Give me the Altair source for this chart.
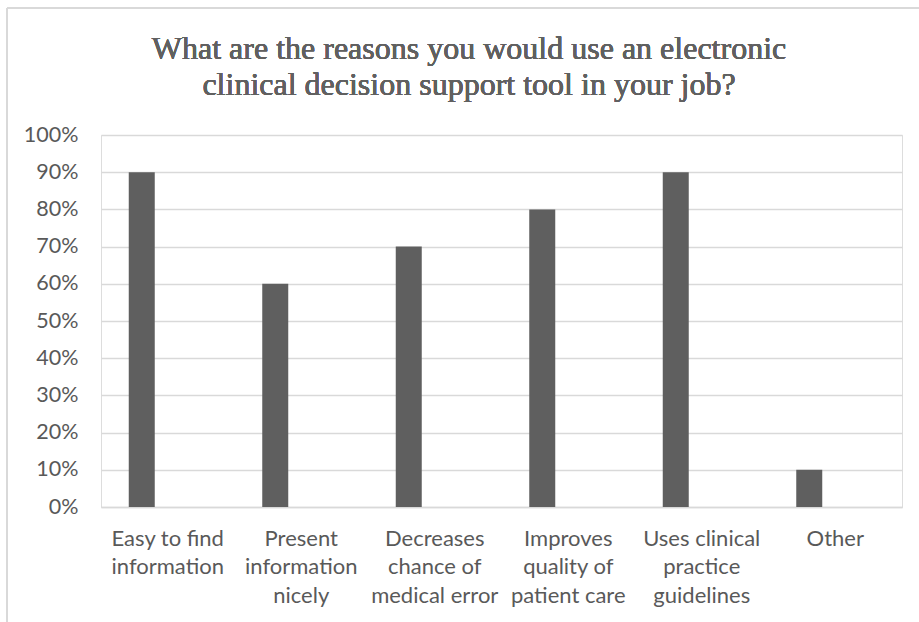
import altair as alt
import pandas as pd

# Survey responses: share of respondents citing each reason
reasons = [
    "Easy to find information",
    "Present information nicely",
    "Decreases chance of medical error",
    "Improves quality of patient care",
    "Uses clinical practice guidelines",
    "Other",
]
label_lines = [
    ["Easy to find", "information"],
    ["Present", "information", "nicely"],
    ["Decreases", "chance of", "medical error"],
    ["Improves", "quality of", "patient care"],
    ["Uses clinical", "practice", "guidelines"],
    ["Other"],
]
shares = [0.90, 0.60, 0.70, 0.80, 0.90, 0.10]
y_ticks = [i / 10 for i in range(11)]

title_lines = [
    "What are the reasons you would use an electronic",
    "clinical decision support tool in your job?",
]

df = pd.DataFrame({"reason": reasons, "share": shares})

# Multi-line category labels through a lookup in the label expression
mapping = "{" + ",".join(
    "'" + r + "':[" + ",".join("'" + s + "'" for s in lines) + "]"
    for r, lines in zip(reasons, label_lines)
) + "}"
label_expr = mapping + "[datum.label]"

GRID = "#d9d9d9"
TEXT = "#595959"
LABEL_FONT = "Lato"

bars = alt.Chart(df).mark_bar(size=26, xOffset=-26, color="#5f5f5f").encode(
    x=alt.X(
        "reason:N",
        sort=reasons,
        title=None,
        scale=alt.Scale(paddingInner=0, paddingOuter=0),
        axis=alt.Axis(
            labelAngle=0,
            labelExpr=label_expr,
            labelFont=LABEL_FONT,
            labelFontSize=22,
            labelColor=TEXT,
            labelLineHeight=28.5,
            labelPadding=21,
            labelBaseline="top",
            ticks=False,
            domainColor=GRID,
            domainWidth=1.5,
            grid=False,
        ),
    ),
    y=alt.Y(
        "share:Q",
        title=None,
        scale=alt.Scale(domain=[0, 1], nice=False),
        axis=alt.Axis(
            values=y_ticks,
            format=".0%",
            labelFont=LABEL_FONT,
            labelFontSize=21.5,
            labelColor=TEXT,
            labelPadding=23,
            ticks=False,
            domain=False,
            gridColor=GRID,
            gridWidth=1.5,
        ),
    ),
)

# Light frame around the chart card (top and left edges)
frame_top = alt.Chart(df).mark_rule(color=GRID, strokeWidth=2).encode(
    x=alt.value(-94), x2=alt.value(830), y=alt.value(-127)
)
frame_left = alt.Chart(df).mark_rule(color=GRID, strokeWidth=2).encode(
    x=alt.value(-94), y=alt.value(-127), y2=alt.value(500)
)

# Two-line chart heading, centred over the card
heading = alt.Chart(df).mark_text(
    font="Liberation Serif",
    fontSize=32,
    lineHeight=36,
    color="#606060",
    align="center",
    baseline="alphabetic",
).encode(x=alt.value(368), y=alt.value(-76), text=alt.value(title_lines))

chart = (
    alt.layer(frame_top, frame_left, bars, heading)
    .properties(
        width=801,
        height=372,
        autosize=alt.AutoSizeParams(type="none"),
        padding={"left": 101, "top": 135, "right": 17, "bottom": 115},
    )
    .configure_view(stroke=None)
    .configure(background="white")
)

chart.save("out.html", embed_options={"renderer": "svg", "actions": False})
